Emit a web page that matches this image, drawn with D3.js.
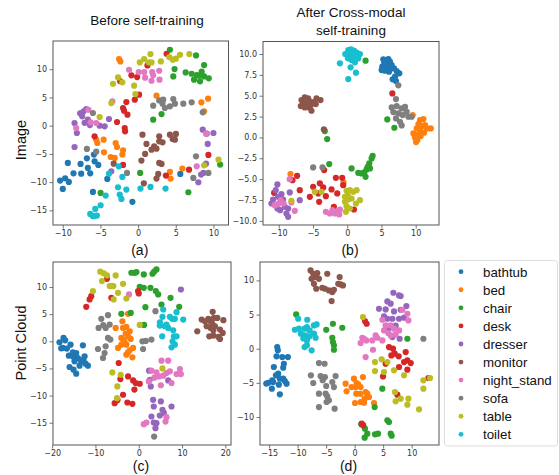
<!DOCTYPE html>
<html><head><meta charset="utf-8">
<script src="https://cdn.jsdelivr.net/npm/d3@7"></script>
<style>body{margin:0;background:#fff}svg{display:block}</style>
</head><body>
<script>
const categories = ["bathtub","bed","chair","desk","dresser","monitor","night_stand","sofa","table","toilet"];
const colors = ["#1f77b4","#ff7f0e","#2ca02c","#d62728","#9467bd","#8c564b","#e377c2","#7f7f7f","#bcbd22","#17becf"];

// Panel (a) Image, before self-training — one list per category
const panelA = [
 [[-10.36,-9.73],[-10.0,-11.2],[-9.69,-9.32],[-9.2,-9.97],[-9.33,-6.6],[-7.64,-6.78],[-7.56,-8.5],[-8.58,-8.44],[-6.8,-5.78],[-6.67,-7.49],[-6.36,-8.44],[-5.87,-5.13],[-5.78,-6.31],[-5.29,-6.96],[-6.0,-11.74],[-4.09,-9.44],[-0.76,-13.5],[5.6,-8.55]],
 [[-2.53,11.8],[-2.36,11.39],[-5.56,-2.48],[-5.42,-3.07],[-4.58,-2.48],[-4.53,-4.72],[-3.64,-5.55],[-3.11,-5.72],[-2.98,-3.07],[-2.8,-3.78],[-2.0,-4.37],[-2.09,-5.13],[2.44,5.31],[8.4,4.13],[9.29,4.78],[8.76,2.54],[5.87,-7.61],[4.22,-8.2],[4.31,-9.38]],
 [[4.22,13.45],[4.84,10.03],[4.67,8.73],[6.31,9.44],[7.11,9.2],[7.78,8.97],[7.42,8.14],[8.09,8.85],[8.44,9.56],[8.76,10.74],[8.76,8.73],[8.22,7.85],[9.38,8.38],[7.69,12.45],[2.0,1.06],[3.11,2.06],[0.27,-8.38],[-4.98,-11.92],[6.67,-11.8],[10.89,-6.9]],
 [[1.24,10.68],[3.78,12.74],[-0.89,8.91],[-0.13,8.61],[0.13,5.49],[-0.44,4.6],[-1.56,4.19],[-2.0,3.13],[-1.87,2.65],[-1.42,1.95],[-2.8,0.65],[-1.78,-0.41],[-1.73,-1.0],[-5.78,-1.89],[-2.0,-6.96],[3.69,-8.85],[6.76,-7.79],[9.33,-5.19],[-2.4,7.9]],
 [[-8.44,0.47],[-8.13,-1.3],[-8.44,-3.78],[-7.42,1.65],[-7.24,2.54],[-6.89,2.95],[-6.67,1.06],[-7.1,0.5],[-6.4,0.1],[-5.11,0.0],[-4.44,-0.12],[-3.87,1.18],[-3.56,-8.08],[8.58,-0.71],[9.24,-3.24],[9.11,-1.42],[10.0,-1.3],[8.36,-8.67],[8.0,-10.03],[9.02,-6.73],[8.67,-8.38],[-7.7,2.2]],
 [[0.58,-1.59],[1.11,-3.24],[2.13,-3.66],[1.78,-4.25],[2.44,-4.07],[2.8,-1.89],[3.24,-2.95],[2.8,-2.77],[0.93,-5.01],[0.44,-6.19],[2.8,-6.61],[3.11,-6.78],[4.22,-1.59],[4.58,-2.36],[5.02,-1.47],[4.89,-2.48],[0.76,-10.21],[2.67,-8.55],[2.44,-9.38],[-3.24,-6.73]],
 [[-1.2,9.91],[0.08,9.5],[0.8,9.5],[0.93,8.5],[1.87,9.5],[2.0,8.91],[1.78,7.96],[2.8,9.73],[2.84,8.14],[-3.42,4.31],[-8.22,-0.41],[-6.6,2.8],[-5.56,0.47],[-6.3,0.6],[7.78,-7.2],[9.02,-1.42]],
 [[-6.0,2.24],[-6.8,-4.13],[-5.56,-4.6],[-1.47,-8.38],[2.0,3.54],[2.8,4.48],[3.33,4.6],[3.56,3.13],[4.22,3.42],[4.67,4.72],[4.89,3.89],[3.24,3.89],[6.0,3.89],[7.11,4.13],[8.58,2.36],[7.69,-5.43],[7.33,-9.26],[9.33,-8.38]],
 [[0.22,11.21],[0.8,11.8],[1.42,11.21],[1.78,11.21],[1.64,12.68],[3.02,11.39],[4.13,12.15],[5.02,11.86],[5.56,12.56],[6.8,12.68],[-2.67,8.55],[-3.33,7.43],[-2.09,7.67],[-0.53,7.08],[-0.36,5.6],[-3.56,4.01],[-5.11,1.53],[8.76,-7.02],[10.67,-6.02],[4.6,11.7]],
 [[-6.36,-15.63],[-6.0,-16.05],[-5.47,-15.93],[-5.69,-14.75],[-4.98,-14.1],[-4.31,-12.39],[-3.87,-8.5],[-2.58,-7.2],[-2.09,-9.09],[-2.67,-10.91],[-2.44,-12.21],[-2.22,-12.98],[-1.56,-11.33],[0.31,-11.15],[1.64,-10.86],[3.64,-11.15],[-5.8,-16.0]]
];

// Panel (b) Image, after cross-modal self-training
const panelB = [
 [[5.27,9.36],[6.0,9.4],[5.66,8.88],[6.24,9.08],[5.12,8.48],[5.76,8.56],[6.49,8.68],[6.83,8.28],[5.51,8.0],[6.1,7.88],[7.22,7.96],[7.61,7.68],[6.98,7.28],[6.63,6.96],[7.12,6.76],[5.02,8.08],[5.4,9.0],[6.3,8.2]],
 [[9.56,2.68],[10.63,2.08],[11.12,2.2],[10.39,1.6],[10.88,1.36],[11.37,1.48],[11.61,1.08],[12.2,1.08],[10.15,1.08],[10.63,0.8],[9.66,0.48],[10.15,0.28],[10.73,0.16],[11.22,0.56],[9.9,0.0],[10.24,-0.32],[10.05,-0.56],[-8.29,-4.4],[-0.54,-5.4]],
 [[2.68,9.2],[5.85,2.16],[6.88,1.16],[-3.27,0.76],[-2.93,-0.2],[-2.63,-3.2],[3.71,-2.2],[3.56,-2.52],[3.22,-3.12],[2.98,-3.52],[3.32,-3.72],[2.83,-3.84],[2.49,-4.2],[2.68,-4.72],[2.1,-4.32],[1.61,-4.24],[0.63,-3.72]],
 [[6.59,5.28],[-3.37,-3.92],[-7.32,-4.6],[-8.0,-5.12],[-6.93,-6.32],[-10.68,-6.64],[-4.98,-5.92],[-5.46,-7.12],[-4.24,-6.72],[-3.51,-6.0],[-3.12,-7.04],[-4.1,-7.72],[-2.29,-6.24],[-1.66,-4.84],[-0.73,-4.84],[-0.59,-5.72],[-1.46,-6.72],[-1.95,-8.32],[0.98,-8.64],[-4.0,-5.5]],
 [[-10.2,-5.64],[-10.44,-6.32],[-9.61,-6.8],[-8.39,-6.6],[-11.07,-7.92],[-10.83,-7.44],[-10.1,-7.12],[-9.37,-7.44],[-10.2,-8.52],[-9.8,-8.72],[-9.12,-8.32],[-8.88,-9.12],[-8.63,-9.52],[-8.63,-8.52],[-6.93,-7.52]],
 [[-6.68,4.48],[-6.2,4.8],[-5.71,4.68],[-6.44,4.08],[-5.85,4.08],[-5.46,4.28],[-4.88,4.24],[-4.49,4.68],[-3.9,4.48],[-6.2,3.6],[-5.56,3.6],[-5.22,3.2],[-4.59,4.0],[-6.78,3.76],[-3.41,0.96],[-6.0,4.3],[-5.3,3.9]],
 [[-9.76,-7.52],[-10.1,-8.0],[-8.15,-7.8],[-7.66,-8.8],[-10.59,-8.12],[-3.12,-8.92],[-2.54,-9.12],[-1.8,-9.12],[-1.17,-9.24],[-2.15,-8.72],[-1.07,-8.64],[-8.4,-5.0],[-9.3,-7.9],[-1.5,-8.9]],
 [[7.46,6.24],[7.12,4.6],[6.49,3.6],[7.22,3.76],[7.95,3.48],[8.44,3.68],[6.73,3.04],[7.46,2.88],[8.1,2.68],[8.68,3.08],[8.93,2.48],[9.41,2.48],[7.12,2.28],[7.71,1.88],[7.95,1.44],[-4.98,-3.6],[-3.61,-3.6]],
 [[-8.15,-7.6],[-4.73,-6.52],[-3.76,-6.52],[-0.1,-6.4],[0.39,-6.32],[0.88,-6.52],[1.37,-6.32],[-0.34,-7.12],[0.15,-7.44],[0.63,-7.32],[-0.34,-7.72],[-0.1,-8.24],[0.39,-8.52],[1.85,-7.52],[-0.2,-8.92],[1.27,-7.92],[0.1,-7.0]],
 [[0.15,10.48],[0.54,10.56],[0.98,10.4],[1.37,10.16],[0.39,9.88],[0.88,9.68],[1.61,9.48],[0.63,9.28],[0.1,9.48],[1.12,9.0],[-1.07,8.88],[0.49,8.4],[1.27,7.76],[0.15,7.0],[1.85,10.0],[-0.29,10.0]]
];

// Panel (c) Point Cloud, before self-training
const panelC = [
 [[-18.3,-0.18],[-17.37,0.62],[-16.99,0.18],[-17.53,-1.23],[-16.6,-1.35],[-15.75,-0.62],[-16.14,-2.65],[-15.21,-2.03],[-15.06,-2.89],[-14.44,-2.16],[-14.05,-3.08],[-14.83,-3.69],[-15.98,-4.74],[-15.06,-5.23],[-14.44,-5.97],[-13.67,-4.5],[-13.28,-3.69],[-12.74,-3.39],[-12.5,-2.77],[-12.28,-4.13],[-11.74,-4.5],[-12.9,-0.74],[-17.9,-1.3]],
 [[-2.47,5.05],[-3.78,3.69],[-5.33,2.46],[-3.63,2.46],[-2.86,2.65],[-4.02,0.62],[-3.63,0.31],[-3.01,1.42],[-2.08,1.85],[-2.47,0.92],[-1.85,0.43],[-4.79,-1.23],[-4.02,-0.62],[-2.86,-0.62],[-1.31,-1.23],[-2.86,-2.46],[-2.47,-2.03],[-1.47,-2.96],[-2.08,-1.66],[-3.3,-0.1]],
 [[-1.7,12.62],[-0.54,12.74],[1.16,12.32],[3.17,12.44],[4.09,13.24],[3.55,12.81],[0.23,10.04],[1.16,9.85],[2.7,9.85],[3.94,9.24],[4.48,8.62],[7.34,8.0],[5.25,6.77],[9.34,6.34],[1.54,6.28],[-4.02,5.05],[-1.85,5.23],[1.24,3.02],[-0.9,12.6]],
 [[-12.12,6.34],[-11.35,7.7],[-10.97,8.31],[-7.34,11.51],[-6.33,8.0],[-0.15,9.24],[0.0,8.81],[-4.63,-4.0],[-4.25,-6.96],[-2.47,-6.47],[-5.56,-11.39],[-2.63,-11.27],[-1.47,-11.51],[-3.63,-9.85],[-1.31,-7.2],[-0.7,-7.7],[0.23,-7.82],[-1.0,-8.9],[-4.9,-10.8]],
 [[9.73,9.54],[2.39,-5.42],[2.55,-7.08],[2.78,-8.31],[3.32,-10.78],[5.1,-11.08],[3.47,-12.01],[5.48,-12.62],[7.57,-12.01],[2.93,-13.85],[4.86,-13.67],[3.47,-14.96],[4.09,-15.09],[3.86,-16.01],[6.8,-7.2],[5.8,-13.2]],
 [[14.52,4.0],[15.29,3.69],[16.06,4.13],[16.6,3.69],[17.07,5.42],[17.37,4.31],[18.15,4.31],[19.54,3.88],[13.51,1.85],[15.68,2.77],[16.6,2.46],[17.22,2.03],[17.61,2.77],[18.76,2.16],[19.38,1.54],[16.29,0.92],[17.22,1.05],[18.38,0.8],[18.76,0.43],[17.0,3.2]],
 [[-2.24,8.62],[2.93,-5.42],[5.25,-3.57],[6.8,-3.57],[4.09,-5.73],[4.71,-6.47],[5.64,-6.34],[6.41,-5.85],[7.18,-5.54],[8.73,-6.03],[9.73,-6.03],[9.5,-5.11],[7.57,-7.7],[2.32,-7.39],[1.16,-15.27],[1.78,-14.96],[6.18,-14.78],[6.41,-13.98],[3.6,-6.7],[5.1,-8.1]],
 [[-9.27,2.46],[-8.65,4.13],[-7.64,2.46],[-7.1,4.8],[-6.72,3.08],[-7.1,0.62],[-6.56,0.31],[-7.64,-0.92],[-9.42,-1.42],[-7.88,-2.16],[-8.26,-3.08],[3.86,5.54],[0.85,0.0],[1.62,0.06],[2.93,0.31],[1.0,-1.42],[3.55,-17.55],[-8.2,3.0]],
 [[-8.88,12.81],[-8.03,12.5],[-7.34,12.13],[-8.49,11.08],[-10.58,9.24],[-6.72,10.16],[-5.87,10.16],[-5.33,12.13],[-3.63,10.59],[-4.79,8.93],[-5.79,7.7],[-2.86,7.88],[0.23,3.02],[-6.1,-5.73],[-4.94,-8.31],[-5.02,-10.47],[-4.17,-6.16],[5.48,-4.99],[-6.2,10.2]],
 [[5.64,5.85],[5.48,4.5],[4.86,2.89],[6.41,3.08],[7.18,4.5],[7.72,4.13],[8.34,4.13],[8.73,5.36],[10.27,4.0],[6.8,2.46],[7.95,2.03],[5.41,0.92],[8.11,0.92],[8.73,0.92],[7.8,0.0],[8.34,-0.62],[7.57,-1.11],[6.02,2.77],[4.9,3.5]]
];

// Panel (d) Point Cloud, after cross-modal self-training
const panelD = [
 [[-13.58,0.24],[-13.47,-0.24],[-13.7,-1.12],[-12.7,-1.22],[-11.71,-1.22],[-12.41,-2.2],[-12.53,-2.78],[-14.17,-2.68],[-13.41,-3.66],[-14.46,-4.63],[-15.16,-4.98],[-14.29,-4.88],[-13.12,-4.39],[-12.53,-4.39],[-12.24,-4.73],[-11.94,-5.12],[-13.29,-5.27],[-14.52,-5.85],[-13.12,-6.68],[-15.5,-5.1],[-13.8,-3.9]],
 [[-1.58,-5.12],[-1.41,-6.24],[-0.12,-4.39],[1.46,-4.15],[-0.53,-5.61],[0.18,-5.61],[0.64,-5.22],[1.05,-5.61],[0.29,-6.59],[0.06,-7.95],[1.93,-6.34],[2.22,-6.59],[2.52,-7.07],[1.76,-7.32],[1.05,-7.8],[1.64,-7.9],[3.4,-7.95],[0.35,-5.02],[1.0,-6.6]],
 [[-10.25,5.02],[-4.98,2.78],[-3.81,3.66],[-2.17,3.07],[-3.92,1.61],[-3.81,0.98],[-3.63,0.49],[-3.63,-0.15],[3.51,-8.54],[4.86,-5.85],[1.17,-11.07],[1.81,-11.71],[2.22,-12.44],[1.76,-13.02],[3.57,-12.54],[4.1,-12.44],[5.74,-10.49],[6.03,-10.73],[6.32,-12.44],[6.5,-12.73],[9.25,1.46]],
 [[1.23,-10.98],[1.81,4.05],[2.11,3.66],[6.03,0.24],[6.73,0.0],[6.44,-0.98],[7.03,-0.73],[7.73,-1.12],[8.96,-0.49],[9.25,-1.71],[9.84,-2.1],[8.67,-1.95],[7.79,-2.68],[9.25,-3.07],[5.44,-2.2],[4.98,-4.05],[7.49,-6.73],[12.94,-4.29],[1.5,-11.2]],
 [[6.79,8.2],[7.79,7.8],[8.08,7.71],[5.74,6.93],[6.32,6.59],[4.27,5.85],[5.44,5.76],[6.91,5.46],[8.08,5.71],[9.08,6.24],[5.15,4.73],[5.74,4.39],[6.62,4.39],[7.79,4.39],[8.67,4.54],[6.62,1.71],[7.9,1.46],[6.0,3.0],[7.2,3.4]],
 [[-7.73,11.46],[-7.26,10.98],[-6.56,11.07],[-7.55,10.24],[-6.85,10.49],[-6.26,10.24],[-7.14,9.51],[-6.73,8.78],[-5.68,8.93],[-5.21,8.78],[-4.8,10.98],[-4.51,8.54],[-3.92,8.29],[-3.63,8.63],[-4.04,6.98],[-2.87,9.51],[-2.63,10.49],[-2.46,9.41],[-2.05,9.27]],
 [[8.37,5.71],[9.25,5.12],[9.43,4.15],[4.86,4.24],[5.44,3.41],[5.15,2.68],[6.32,3.41],[6.91,2.93],[7.79,2.68],[6.32,1.95],[7.2,2.1],[3.69,1.95],[3.98,1.61],[4.86,1.22],[3.1,1.22],[1.64,1.46],[1.35,1.61],[2.05,1.22],[1.05,0.83],[3.22,-0.15],[1.93,-1.22],[5.9,2.3]],
 [[-6.26,-2.1],[-5.27,-2.2],[-7.67,-3.9],[-7.26,-5.02],[-5.97,-4.0],[-5.21,-4.15],[-4.98,-5.46],[-3.34,-4.0],[-3.92,-4.88],[-3.63,-5.61],[-6.26,-6.59],[-5.09,-6.59],[-4.8,-6.98],[-4.51,-7.56],[-4.92,-7.8],[-6.26,-8.54],[-3.51,-8.78],[12.06,1.46],[-5.6,-4.6]],
 [[1.46,4.63],[3.57,-1.95],[3.57,-3.27],[4.74,-1.56],[5.15,-3.41],[5.74,-1.95],[6.91,-3.17],[8.67,-3.9],[7.08,-6.34],[7.2,-7.7],[8.08,-7.32],[9.43,-7.32],[9.25,-8.2],[11.3,-8.88],[12.06,-4.63],[12.06,-5.85],[13.23,-4.29]],
 [[-10.48,2.78],[-9.78,2.93],[-8.31,4.24],[-9.9,4.39],[-8.78,2.93],[-8.37,3.17],[-7.9,2.68],[-7.14,3.41],[-6.67,3.56],[-9.43,2.2],[-8.67,1.95],[-7.96,1.8],[-7.14,2.2],[-6.85,1.61],[-8.37,1.22],[-8.78,0.24],[-8.37,0.49],[-7.55,-0.24],[-9.0,1.5]]
];

const ticksAx = [-10,-5,0,5,10], ticksAy = [-15,-10,-5,0,5,10];
const ticksBx = [-10,-5,0,5,10], ticksBy = [-10,-7.5,-5,-2.5,0,2.5,5,7.5,10];
const ticksCx = [-20,-10,0,10,20], ticksCy = [-15,-10,-5,0,5,10];
const ticksDx = [-15,-10,-5,0,5,10], ticksDy = [-10,-5,0,5,10];
const subLabels = ["(a)","(b)","(c)","(d)"];
const colTitles = [["Before self-training"],["After Cross-modal","self-training"]];
const rowTitles = ["Image","Point Cloud"];

const W = 559, H = 475;
const svg = d3.select("body").append("svg").attr("width", W).attr("height", H);
const fmtMinus = s => s.replace("-", "\u2212");

const panels = [
  {data: panelA, box:[53,228.5,41,225], xd:[-11.3,12.0], yd:[-17.6,15.0], tx:ticksAx, ty:ticksAy, fy:d3.format("d")},
  {data: panelB, box:[263,439,41.5,225], xd:[-12.3,13.4], yd:[-10.5,11.5], tx:ticksBx, ty:ticksBy, fy:d3.format(".1f")},
  {data: panelC, box:[53,231,262,445], xd:[-19.8,21.3], yd:[-19.1,14.6], tx:ticksCx, ty:ticksCy, fy:d3.format("d")},
  {data: panelD, box:[260,439,262,445], xd:[-16.6,14.8], yd:[-14.1,12.7], tx:ticksDx, ty:ticksDy, fy:d3.format("d")}
];

panels.forEach((p, i) => {
  const [x0,x1,y0,y1] = p.box;
  const x = d3.scaleLinear().domain(p.xd).range([x0,x1]);
  const y = d3.scaleLinear().domain(p.yd).range([y1,y0]);
  const g = svg.append("g");
  const pts = g.append("g");
  p.data.forEach((arr, ci) => {
    pts.selectAll(null).data(arr).enter().append("circle")
      .attr("cx", d => x(d[0])).attr("cy", d => y(d[1])).attr("r", 3.1)
      .attr("fill", colors[ci]);
  });
  const ax = g.append("g").attr("transform", `translate(0,${y1})`)
    .call(d3.axisBottom(x).tickValues(p.tx).tickSize(3.5).tickPadding(2).tickFormat(d => fmtMinus(d3.format("d")(d))));
  const ay = g.append("g").attr("transform", `translate(${x0},0)`)
    .call(d3.axisLeft(y).tickValues(p.ty).tickSize(3.5).tickPadding(2.5).tickFormat(d => fmtMinus(p.fy(d))));
  [ax, ay].forEach(a => {
    a.select(".domain").remove();
    a.selectAll("line").attr("stroke", "#555").attr("stroke-width", 0.8);
    a.selectAll("text").attr("font-family", "DejaVu Sans").attr("font-size", 8).attr("fill", "#333");
  });
  g.append("rect").attr("x", x0).attr("y", y0).attr("width", x1-x0).attr("height", y1-y0)
    .attr("fill", "none").attr("stroke", "#555").attr("stroke-width", 1);
  svg.append("text").attr("x", (x0+x1)/2 - 1).attr("y", i < 2 ? 255 : 471)
    .attr("text-anchor", "middle").attr("font-family", "Liberation Sans, Arial, sans-serif")
    .attr("font-size", 14).attr("fill", "#111").text(subLabels[i]);
});

// Column titles
const tFont = "Liberation Sans, Arial, sans-serif";
svg.append("text").attr("x", 147).attr("y", 25).attr("text-anchor","middle")
  .attr("font-family", tFont).attr("font-size", 13.5).attr("fill","#111").text(colTitles[0][0]);
colTitles[1].forEach((t, k) => {
  svg.append("text").attr("x", 351).attr("y", 17 + k*18).attr("text-anchor","middle")
    .attr("font-family", tFont).attr("font-size", 13.5).attr("fill","#111").text(t);
});
// Row titles
[[140, rowTitles[0]], [343, rowTitles[1]]].forEach(([cy, t]) => {
  svg.append("text").attr("transform", `translate(26,${cy}) rotate(-90)`)
    .attr("text-anchor","middle").attr("font-family", tFont).attr("font-size", 14.5)
    .attr("fill","#111").text(t);
});

// Legend
const lg = svg.append("g");
lg.append("rect").attr("x", 444.5).attr("y", 260.5).attr("width", 113).attr("height", 185.5)
  .attr("rx", 3).attr("fill", "#fff").attr("stroke", "#ddd").attr("stroke-width", 1);
categories.forEach((c, i) => {
  const yy = 271.7 + i*18.07;
  lg.append("circle").attr("cx", 461).attr("cy", yy).attr("r", 2.4).attr("fill", colors[i]);
  lg.append("text").attr("x", 483).attr("y", yy + 4.8).attr("font-family", tFont)
    .attr("font-size", 13.3).attr("fill", "#111").text(c);
});
</script>
</body></html>
